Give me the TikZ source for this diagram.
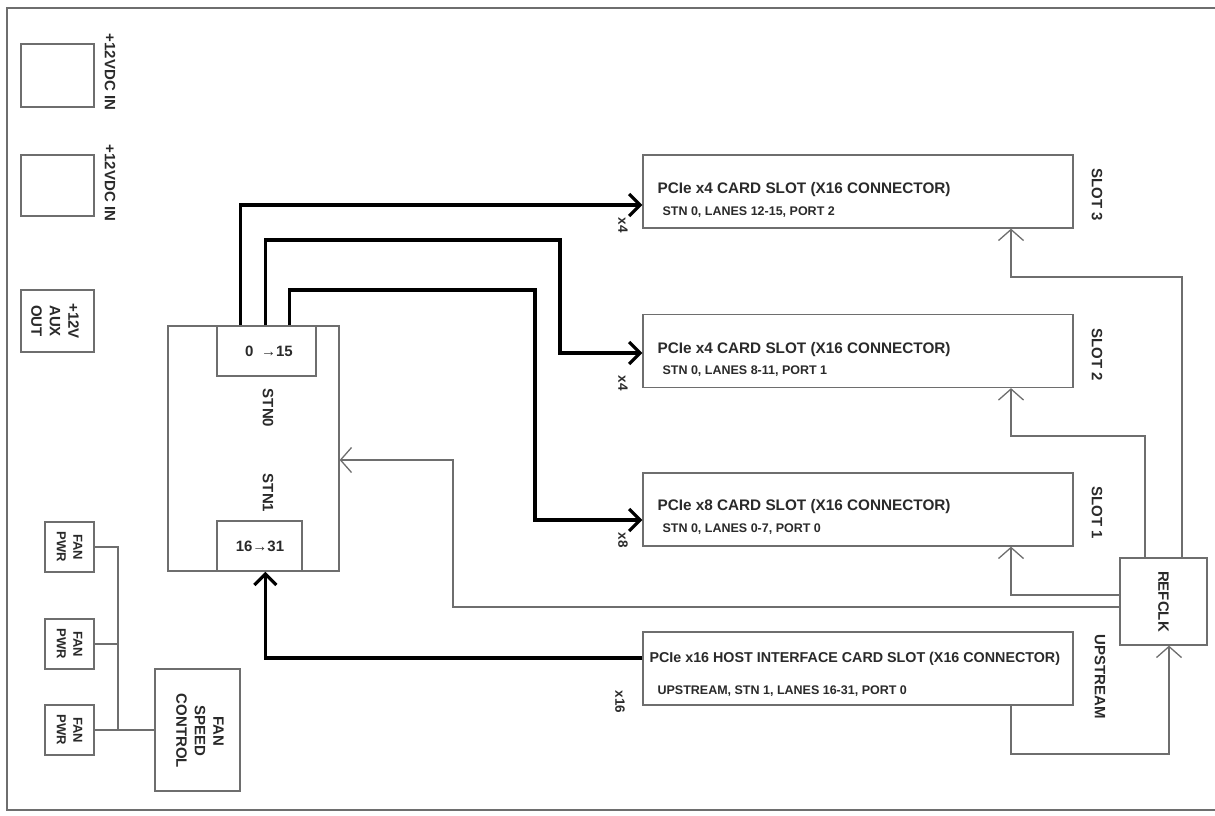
\documentclass[tikz,border=0pt]{standalone}
\usepackage{fontspec}
\setmainfont{Liberation Sans}
\usetikzlibrary{arrows.meta}
\definecolor{edge}{HTML}{6E6E6E}
\definecolor{txt}{HTML}{2A2A2A}
\begin{document}
\begin{tikzpicture}[x=1pt,y=-1pt,
  box/.style={draw=edge,line width=1.3pt,inner sep=0pt,fill=white},
  lbl/.style={text=txt,font=\bfseries\fontsize{15}{18.5}\selectfont,inner sep=0pt},
  vlbl/.style={lbl,rotate=-90,align=center},
  small/.style={text=txt,font=\bfseries\fontsize{13.5}{15}\selectfont,inner sep=0pt,rotate=-90},
  fanl/.style={text=txt,font=\bfseries\fontsize{13}{16.5}\selectfont,inner sep=0pt,rotate=-90,align=center},
  sub/.style={text=txt,font=\bfseries\fontsize{12.5}{15}\selectfont,inner sep=0pt,anchor=west},
  ttl/.style={text=txt,font=\bfseries\fontsize{15.3}{18}\selectfont,inner sep=0pt,anchor=west},
  wire/.style={draw=edge,line width=1.3pt},
  clk/.style={wire,-{Straight Barb[length=11pt,width=25pt]}},
  lane/.style={draw=black,line width=3.2pt,-{Straight Barb[length=11pt,width=22pt]}}
]
\useasboundingbox (0,0) rectangle (1215,815);
% outer frame
\draw[draw=edge,line width=1.5pt] (1216,8) -- (7,8) -- (7,810) -- (1216,810);

% power connectors
\node[box,minimum width=73pt,minimum height=63pt] (pwr1) at (57.5,75.5) {};
\node[vlbl] (pwr1l) at (110,72) {+12VDC IN};
\node[box,minimum width=73pt,minimum height=61pt] (pwr2) at (57.5,185.5) {};
\node[vlbl] (pwr2l) at (110,183) {+12VDC IN};
\node[box,minimum width=73pt,minimum height=62pt] (aux) at (57.5,321) {};
\node[vlbl] (auxl) at (55,321) {+12V\\AUX\\OUT};

% switch
\node[box,minimum width=171pt,minimum height=245pt] (stn) at (253.5,448.5) {};
\node[box,minimum width=99pt,minimum height=50pt] (in0) at (266.5,351) {};
\node[lbl] (in0l) at (269,351) {0\enspace→15};
\node[box,minimum width=85pt,minimum height=50pt] (in1) at (259.5,546) {};
\node[lbl] (in1l) at (260,546) {16→31};
\node[vlbl] (stn0l) at (268,408) {STN0};
\node[vlbl] (stn1l) at (268,493) {STN1};

% slots
\node[box,minimum width=430pt,minimum height=73pt] (slot3) at (858,191.5) {};
\node[box,minimum width=430pt,minimum height=73pt] (slot2) at (858,351) {};
\node[box,minimum width=430pt,minimum height=73pt] (slot1) at (858,509.5) {};
\node[box,minimum width=430pt,minimum height=73pt] (up) at (858,668.5) {};

\node[ttl] (t3) at ([xshift=15pt,yshift=1.5pt]slot3.west) {PCIe x4 CARD SLOT (X16 CONNECTOR)};
\node[sub] (s3) at ([xshift=20pt,yshift=-20.5pt]slot3.west) {STN 0, LANES 12-15, PORT 2};
\node[ttl] (t2) at ([xshift=15pt,yshift=1pt]slot2.west) {PCIe x4 CARD SLOT (X16 CONNECTOR)};
\node[sub] (s2) at ([xshift=20pt,yshift=-20pt]slot2.west) {STN 0, LANES 8-11, PORT 1};
\node[ttl] (t1) at ([xshift=15pt,yshift=2.5pt]slot1.west) {PCIe x8 CARD SLOT (X16 CONNECTOR)};
\node[sub] (s1) at ([xshift=20pt,yshift=-19.5pt]slot1.west) {STN 0, LANES 0-7, PORT 0};
\node[ttl,font=\bfseries\fontsize{14.3}{17}\selectfont] (tu) at ([xshift=7pt,yshift=9.5pt]up.west) {PCIe x16 HOST INTERFACE CARD SLOT (X16 CONNECTOR)};
\node[sub] (su) at ([xshift=15pt,yshift=-22.5pt]up.west) {UPSTREAM, STN 1, LANES 16-31, PORT 0};

\node[vlbl] (l3) at (1097,195) {SLOT 3};
\node[vlbl] (l2) at (1097,355) {SLOT 2};
\node[vlbl] (l1) at (1097,513) {SLOT 1};
\node[vlbl] (lu) at (1100,677) {UPSTREAM};

\node[small] (x3) at (623,225) {x4};
\node[small] (x2) at (623,383) {x4};
\node[small] (x1) at (623,540) {x8};
\node[small] (xu) at (620,702) {x16};

% refclk
\node[box,minimum width=87pt,minimum height=87pt] (ref) at (1163.5,601.5) {};
\node[vlbl] (refl) at (1163.5,601.5) {REFCLK};

% fans
\node[box,minimum width=49pt,minimum height=50pt] (fan1) at (69.5,547) {};
\node[box,minimum width=49pt,minimum height=50pt] (fan2) at (69.5,644) {};
\node[box,minimum width=49pt,minimum height=50pt] (fan3) at (69.5,730) {};
\node[fanl] (fan1l) at (69.5,547) {FAN\\PWR};
\node[fanl] (fan2l) at (69.5,644) {FAN\\PWR};
\node[fanl] (fan3l) at (69.5,730) {FAN\\PWR};
\node[box,minimum width=85pt,minimum height=122pt] (fctl) at (197.5,730) {};
\node[vlbl] (fctll) at (200,731) {FAN\\SPEED\\CONTROL};

\coordinate (busT) at (118,547);
\coordinate (busB) at (118,730);
\draw[wire] (fan1.east) -- (busT) -- (busB);
\draw[wire] (fan2.east) -- (fan2.east -| busT);
\draw[wire] (fan3.east) -- (fctl.west);

% lanes
\coordinate (c2) at (560,240);
\coordinate (c3) at (535,290);
\draw[lane] ([xshift=24pt]in0.north west) |- ([yshift=-13.5pt]slot3.west);
\draw[lane] ([xshift=49pt]in0.north west) |- (c2) |- ([yshift=-2pt]slot2.west);
\draw[lane] ([xshift=73pt]in0.north west) |- (c3) |- ([yshift=-10.5pt]slot1.west);
\draw[lane] ([yshift=10.5pt]up.west) -| ([xshift=49pt]in1.south west);

% clocks
\coordinate (r3) at (1182,277);
\coordinate (r2) at (1145,436);
\coordinate (k) at (453,460);
\coordinate (u) at (1169,754);
\draw[clk] ([xshift=18.5pt]ref.north) -- (r3) -| ([xshift=153pt]slot3.south);
\draw[clk] ([xshift=-18.5pt]ref.north) -- (r2) -| ([xshift=153pt]slot2.south);
\draw[clk] ([yshift=6.5pt]ref.west) -| ([xshift=153pt]slot1.south);
\draw[clk] ([yshift=-5.5pt]ref.west) -| (k) -- ([yshift=-11.5pt]stn.east);
\draw[clk] ([xshift=153pt]up.south) |- (u) -- ([xshift=5.5pt]ref.south);
\end{tikzpicture}
\end{document}
